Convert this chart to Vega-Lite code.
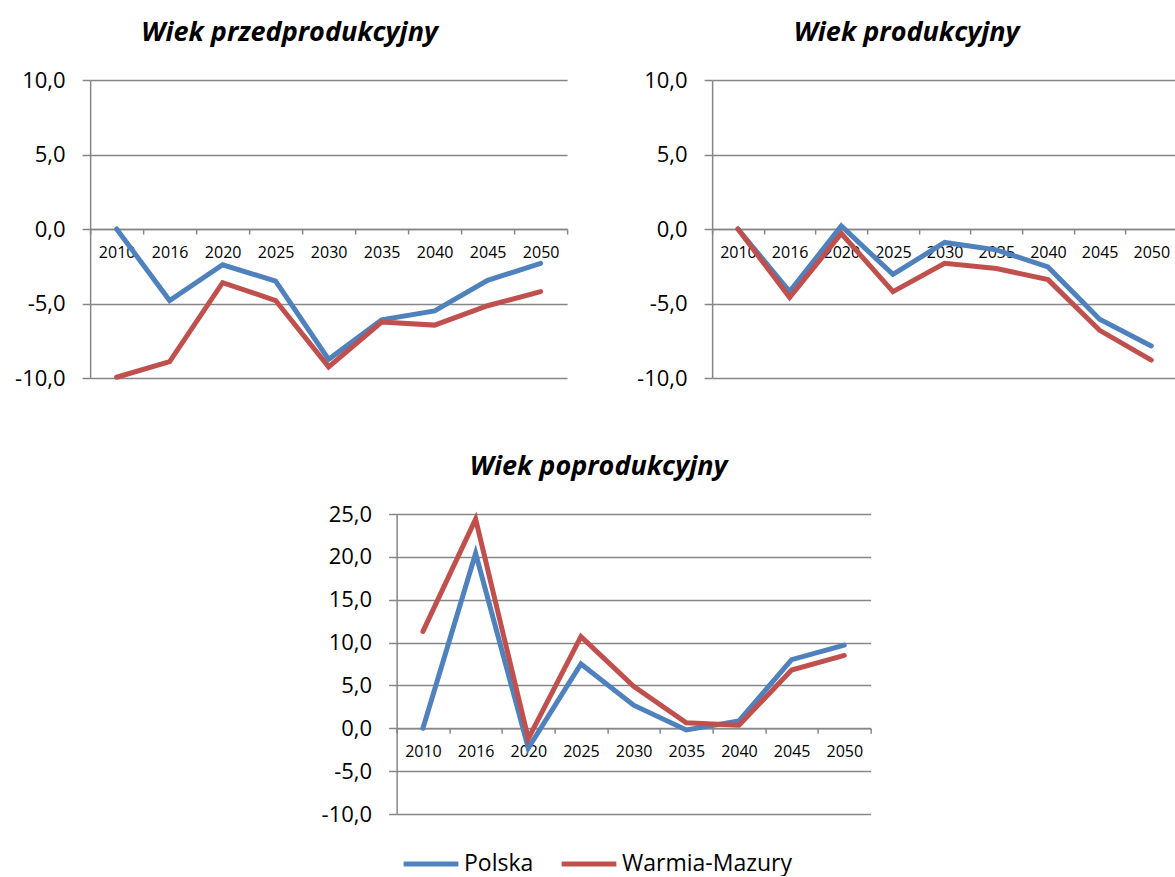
{
  "$schema": "https://vega.github.io/schema/vega-lite/v6.json",
  "padding": {"left": 14, "top": 19, "right": 0, "bottom": 0},
  "background": "white",
  "datasets": {
    "d": [
      {"panel": "pre", "year": "2010", "series": "Polska", "value": 0.0},
      {"panel": "pre", "year": "2016", "series": "Polska", "value": -4.8},
      {"panel": "pre", "year": "2020", "series": "Polska", "value": -2.4},
      {"panel": "pre", "year": "2025", "series": "Polska", "value": -3.5},
      {"panel": "pre", "year": "2030", "series": "Polska", "value": -8.75},
      {"panel": "pre", "year": "2035", "series": "Polska", "value": -6.1},
      {"panel": "pre", "year": "2040", "series": "Polska", "value": -5.5},
      {"panel": "pre", "year": "2045", "series": "Polska", "value": -3.45},
      {"panel": "pre", "year": "2050", "series": "Polska", "value": -2.3},
      {"panel": "pre", "year": "2010", "series": "Warmia-Mazury", "value": -9.95},
      {"panel": "pre", "year": "2016", "series": "Warmia-Mazury", "value": -8.9},
      {"panel": "pre", "year": "2020", "series": "Warmia-Mazury", "value": -3.6},
      {"panel": "pre", "year": "2025", "series": "Warmia-Mazury", "value": -4.8},
      {"panel": "pre", "year": "2030", "series": "Warmia-Mazury", "value": -9.25},
      {"panel": "pre", "year": "2035", "series": "Warmia-Mazury", "value": -6.25},
      {"panel": "pre", "year": "2040", "series": "Warmia-Mazury", "value": -6.45},
      {"panel": "pre", "year": "2045", "series": "Warmia-Mazury", "value": -5.15},
      {"panel": "pre", "year": "2050", "series": "Warmia-Mazury", "value": -4.2},
      {"panel": "pro", "year": "2010", "series": "Polska", "value": 0.0},
      {"panel": "pro", "year": "2016", "series": "Polska", "value": -4.2},
      {"panel": "pro", "year": "2020", "series": "Polska", "value": 0.2},
      {"panel": "pro", "year": "2025", "series": "Polska", "value": -3.05},
      {"panel": "pro", "year": "2030", "series": "Polska", "value": -0.9},
      {"panel": "pro", "year": "2035", "series": "Polska", "value": -1.4},
      {"panel": "pro", "year": "2040", "series": "Polska", "value": -2.55},
      {"panel": "pro", "year": "2045", "series": "Polska", "value": -6.05},
      {"panel": "pro", "year": "2050", "series": "Polska", "value": -7.85},
      {"panel": "pro", "year": "2010", "series": "Warmia-Mazury", "value": 0.0},
      {"panel": "pro", "year": "2016", "series": "Warmia-Mazury", "value": -4.6},
      {"panel": "pro", "year": "2020", "series": "Warmia-Mazury", "value": -0.3},
      {"panel": "pro", "year": "2025", "series": "Warmia-Mazury", "value": -4.2},
      {"panel": "pro", "year": "2030", "series": "Warmia-Mazury", "value": -2.3},
      {"panel": "pro", "year": "2035", "series": "Warmia-Mazury", "value": -2.65},
      {"panel": "pro", "year": "2040", "series": "Warmia-Mazury", "value": -3.4},
      {"panel": "pro", "year": "2045", "series": "Warmia-Mazury", "value": -6.8},
      {"panel": "pro", "year": "2050", "series": "Warmia-Mazury", "value": -8.8},
      {"panel": "post", "year": "2010", "series": "Polska", "value": 0.0},
      {"panel": "post", "year": "2016", "series": "Polska", "value": 20.4},
      {"panel": "post", "year": "2020", "series": "Polska", "value": -2.3},
      {"panel": "post", "year": "2025", "series": "Polska", "value": 7.5},
      {"panel": "post", "year": "2030", "series": "Polska", "value": 2.7},
      {"panel": "post", "year": "2035", "series": "Polska", "value": -0.2},
      {"panel": "post", "year": "2040", "series": "Polska", "value": 0.85},
      {"panel": "post", "year": "2045", "series": "Polska", "value": 8.0},
      {"panel": "post", "year": "2050", "series": "Polska", "value": 9.7},
      {"panel": "post", "year": "2010", "series": "Warmia-Mazury", "value": 11.3},
      {"panel": "post", "year": "2016", "series": "Warmia-Mazury", "value": 24.4},
      {"panel": "post", "year": "2020", "series": "Warmia-Mazury", "value": -1.2},
      {"panel": "post", "year": "2025", "series": "Warmia-Mazury", "value": 10.7},
      {"panel": "post", "year": "2030", "series": "Warmia-Mazury", "value": 4.9},
      {"panel": "post", "year": "2035", "series": "Warmia-Mazury", "value": 0.65},
      {"panel": "post", "year": "2040", "series": "Warmia-Mazury", "value": 0.35},
      {"panel": "post", "year": "2045", "series": "Warmia-Mazury", "value": 6.8},
      {"panel": "post", "year": "2050", "series": "Warmia-Mazury", "value": 8.5}
    ]
  },
  "data": {"name": "d"},
  "vconcat": [
    {
      "hconcat": [
        {
          "title": {"text": "Wiek przedprodukcyjny", "dx": -39},
          "width": 477,
          "height": 298,
          "transform": [{"filter": "datum.panel === 'pre'"}],
          "mark": {"type": "line", "strokeWidth": 5, "strokeCap": "round"},
          "encoding": {
            "x": {"field": "year", "type": "ordinal", "bandPosition": 0.5,
                  "scale": {"type": "band", "paddingInner": 0, "paddingOuter": 0},
                  "axis": {"offset": -149}},
            "y": {"field": "value", "type": "quantitative",
                  "scale": {"domain": [-10, 10], "nice": false},
                  "axis": {"values": [-10, -5, 0, 5, 10]}},
            "color": {"field": "series", "type": "nominal",
                      "legend": {"orient": "none", "legendX": 311, "legendY": 754, "direction": "horizontal"}}
          }
        },
        {
          "title": {"text": "Wiek produkcyjny", "dx": -38},
          "width": 465,
          "height": 298,
          "transform": [{"filter": "datum.panel === 'pro'"}],
          "mark": {"type": "line", "strokeWidth": 5, "strokeCap": "round"},
          "encoding": {
            "x": {"field": "year", "type": "ordinal", "bandPosition": 0.5,
                  "scale": {"type": "band", "paddingInner": 0, "paddingOuter": 0},
                  "axis": {"offset": -149}},
            "y": {"field": "value", "type": "quantitative",
                  "scale": {"domain": [-10, 10], "nice": false},
                  "axis": {"values": [-10, -5, 0, 5, 10]}},
            "color": {"field": "series", "type": "nominal",
                      "legend": {"orient": "none", "legendX": 311, "legendY": 754, "direction": "horizontal"}}
          }
        }
      ],
      "spacing": 68
    },
    {
      "title": {"text": "Wiek poprodukcyjny", "dx": -35},
      "width": 474,
      "height": 300,
      "transform": [{"filter": "datum.panel === 'post'"}],
      "mark": {"type": "line", "strokeWidth": 5, "strokeCap": "round"},
      "encoding": {
        "x": {"field": "year", "type": "ordinal", "bandPosition": 0.5,
              "scale": {"type": "band", "paddingInner": 0, "paddingOuter": 0},
              "axis": {"offset": -85.7}},
        "y": {"field": "value", "type": "quantitative",
              "scale": {"domain": [-10, 25], "nice": false},
              "axis": {"values": [-10, -5, 0, 5, 10, 15, 20, 25]}},
        "color": {"field": "series", "type": "nominal",
                  "legend": {"orient": "none", "legendX": 311, "legendY": 754, "direction": "horizontal"}}
      }
    }
  ],
  "spacing": 64,
  "center": true,
  "resolve": {"scale": {"color": "shared"}, "legend": {"color": "shared"}},
  "config": {
    "locale": {
      "number": {"decimal": ",", "thousands": " ", "grouping": [3], "currency": ["", " zł"], "minus": "-"}
    },
    "font": "Open Sans",
    "view": {"stroke": null},
    "title": {"fontSize": 27, "fontWeight": "bold", "fontStyle": "italic", "color": "black", "font": "Open Sans", "offset": 22},
    "range": {"category": ["#4F81BD", "#C0504D"]},
    "axisX": {
      "title": null, "labelAngle": 0, "labelFontSize": 16, "labelColor": "black", "labelFont": "Open Sans",
      "tickBand": "extent", "tickColor": "#868686", "tickSize": 5, "tickWidth": 1.5,
      "domainColor": "#868686", "domainWidth": 1.5, "grid": false, "labelPadding": 10
    },
    "axisY": {
      "title": null, "format": ".1f", "labelFontSize": 22, "labelColor": "black", "labelFont": "Open Sans",
      "tickColor": "#868686", "tickSize": 8, "tickWidth": 1.5, "labelPadding": 17,
      "domainColor": "#868686", "domainWidth": 1.5,
      "grid": true, "gridColor": "#868686", "gridWidth": 1.5
    },
    "legend": {
      "title": null,
      "symbolType": "stroke", "symbolSize": 3000, "symbolStrokeWidth": 5,
      "labelFontSize": 23, "labelColor": "black", "labelFont": "Open Sans", "labelLimit": 400,
      "columnPadding": 17, "labelOffset": 3
    }
  }
}
